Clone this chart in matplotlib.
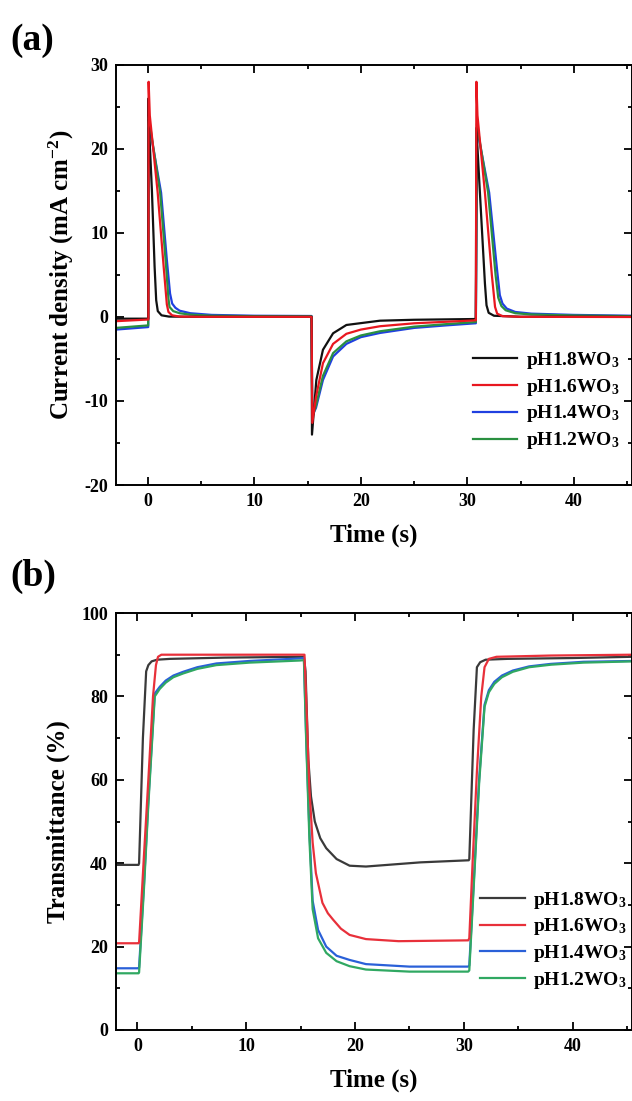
import numpy as np
import matplotlib
matplotlib.use("Agg")
import matplotlib.pyplot as plt

plt.rcParams['font.family'] = ['Liberation Serif', 'DejaVu Serif']
plt.rcParams['font.weight'] = 'bold'
plt.rcParams['mathtext.fontset'] = 'custom'
plt.rcParams['mathtext.rm'] = 'Liberation Serif:bold'
plt.rcParams['mathtext.it'] = 'Liberation Serif:bold:italic'
plt.rcParams['mathtext.bf'] = 'Liberation Serif:bold'
plt.rcParams['mathtext.default'] = 'rm'
plt.rcParams['axes.unicode_minus'] = False

labels = [r'pH1.8WO$_3$', r'pH1.6WO$_3$', r'pH1.4WO$_3$', r'pH1.2WO$_3$']

# ---- (a) current density ----
t_a_18 = [-3, 0.05, 0.07, 0.15, 0.4, 0.65, 0.8, 0.95, 1.3, 2.0, 5, 15.38,
          15.42, 15.83, 16.45, 17.4, 18.65, 21.8, 25, 30.75, 30.8, 30.85,
          31.3, 31.65, 31.8, 32.0, 32.5, 35, 45.5]
j_a_18 = [-0.2, -0.2, 26, 22, 15, 6, 2, 0.7, 0.2, 0.05, 0.02, 0.02,
          -14, -7.5, -3.9, -1.94, -0.95, -0.44, -0.33, -0.24, -0.24, 22.5,
          12, 4, 1.4, 0.5, 0.15, 0.03, 0.02]

t_a_16 = [-3, 0.07, 0.09, 0.2, 0.94, 1.5, 1.8, 1.95, 2.3, 3, 5, 15.38,
          15.45, 15.8, 16.45, 17.4, 18.65, 20, 21.8, 25, 30.75, 30.8, 30.85,
          30.95, 31.65, 32.3, 32.6, 32.8, 33.3, 35, 45.5]
j_a_16 = [-0.5, -0.3, 28, 24, 14.8, 6, 1.5, 0.6, 0.2, 0.05, 0.02, 0.02,
          -12.6, -9.5, -5.5, -3.2, -2.0, -1.5, -1.1, -0.75, -0.4, -0.4, 28,
          24, 14.8, 5, 1.2, 0.4, 0.1, 0.02, 0.0]

t_a_14 = [-3, 0.05, 0.08, 0.2, 1.26, 1.8, 2.1, 2.3, 2.6, 3.0, 4.0, 6, 10,
          15.38, 15.45, 15.8, 16.45, 17.4, 18.65, 20, 21.8, 25, 28, 30.75,
          30.8, 30.9, 32.05, 32.8, 33.05, 33.3, 33.7, 34.5, 36, 40, 45.5]
j_a_14 = [-1.5, -1.2, 22.5, 22.5, 14.8, 6.8, 2.8, 1.6, 1.1, 0.75, 0.45, 0.25,
          0.15, 0.12, -11.8, -10.8, -7.5, -4.7, -3.2, -2.4, -1.9, -1.3, -1.0,
          -0.75, -0.75, 22.5, 14.8, 5.5, 2.6, 1.6, 1.0, 0.6, 0.4, 0.25, 0.15]

t_a_12 = [-3, 0.05, 0.08, 0.2, 1.17, 1.7, 1.95, 2.05, 2.4, 3.0, 4.0, 6, 10,
          15.38, 15.45, 15.8, 16.45, 17.4, 18.65, 20, 21.8, 25, 28, 30.75,
          30.8, 30.9, 31.95, 32.65, 32.9, 33.2, 33.6, 34.5, 36, 40, 45.5]
j_a_12 = [-1.3, -1.0, 23.5, 23, 14.8, 6.5, 2.2, 1.2, 0.7, 0.45, 0.28, 0.15,
          0.1, 0.08, -12, -10.5, -7, -4.3, -2.9, -2.2, -1.7, -1.15, -0.85,
          -0.6, -0.6, 23, 14.8, 5, 2.3, 1.3, 0.8, 0.45, 0.3, 0.18, 0.1]

# ---- (b) transmittance ----
t_b_18 = [-2, 0.1, 0.15, 0.5, 0.8, 1.0, 1.3, 1.8, 3, 8, 15.3, 15.45, 15.7,
          15.95, 16.3, 16.8, 17.35, 18.3, 19.5, 21, 23, 26, 30.45, 30.5, 30.9,
          31.2, 31.5, 32, 34, 40, 45.5]
T_b_18 = [39.6, 39.6, 40, 70, 86, 87.5, 88.4, 88.8, 89, 89.3, 89.5, 86, 65,
          56, 50, 46, 43.6, 41, 39.4, 39.2, 39.6, 40.2, 40.7, 41, 72, 87,
          88.2, 88.8, 89, 89.2, 89.5]

t_b_16 = [-2, 0.1, 0.15, 0.6, 1.0, 1.43, 1.7, 1.89, 2.2, 4, 10, 15.35, 15.5,
          15.8, 16.1, 16.4, 17.0, 17.5, 18.0, 18.7, 19.5, 21, 24, 30.4, 30.5,
          30.8, 31.2, 31.6, 31.9, 32.3, 33, 38, 45.5]
T_b_16 = [20.8, 20.8, 21, 42, 60, 80, 87.5, 89.5, 90, 90, 90, 90, 80, 58,
          45, 37.6, 30.5, 28, 26.4, 24.3, 22.8, 21.8, 21.3, 21.5, 22, 40, 62,
          80, 87, 89, 89.5, 89.8, 90]

t_b_14 = [-2, 0.1, 0.15, 0.6, 1.0, 1.59, 2.05, 2.6, 3.3, 4.2, 5.5, 7.25,
          10.3, 14.9, 15.3, 15.5, 15.8, 16.1, 16.6, 17.35, 18.3, 19.5, 21, 25,
          30.4, 30.5, 30.9, 31.4, 31.9, 32.3, 32.8, 33.5, 34.5, 36, 38, 41,
          45.5]
T_b_14 = [14.8, 14.8, 15, 35, 55, 80.7, 82.3, 83.8, 85, 85.9, 87, 87.9,
          88.5, 89.1, 89.2, 71, 48, 31, 24, 20, 17.8, 16.8, 15.8, 15.2, 15.2,
          15.5, 35, 60, 78, 81.5, 83.5, 85, 86.2, 87.2, 87.8, 88.3, 88.5]

t_b_12 = [-2, 0.1, 0.15, 0.6, 1.0, 1.59, 2.05, 2.6, 3.3, 4.2, 5.5, 7.25,
          10.3, 14.9, 15.3, 15.5, 15.8, 16.1, 16.6, 17.35, 18.3, 19.5, 21, 25,
          30.4, 30.5, 30.9, 31.4, 31.9, 32.3, 32.8, 33.5, 34.5, 36, 38, 41,
          45.5]
T_b_12 = [13.6, 13.6, 13.8, 34, 54, 80, 81.8, 83.3, 84.6, 85.5, 86.6, 87.5,
          88.1, 88.6, 88.7, 70, 46, 29, 22, 18.5, 16.5, 15.3, 14.5, 14.0, 14.0,
          14.3, 34, 59, 77.5, 81, 83, 84.6, 85.9, 87, 87.6, 88.1, 88.4]

cols_a = ['#111111', '#e8171f', '#2040e0', '#2a9040']
cols_b = ['#3a3a3a', '#e8303a', '#2a60d8', '#30a862']

fig = plt.figure(figsize=(6.32, 11.01), dpi=100)
W, H = 632.0, 1101.0
ax1 = fig.add_axes([115.7/W, 1-485/H, (632.5-115.7)/W, 420/H])
ax2 = fig.add_axes([115.7/W, 1-1030/H, (632.5-115.7)/W, 417/H])

def style(ax):
    for s in ax.spines.values():
        s.set_linewidth(1.4)
    ax.tick_params(which='both', direction='in', top=True, right=True,
                   width=1.3, labelsize=13, pad=5.5)
    ax.tick_params(which='major', length=5.5)
    ax.tick_params(which='minor', length=3)
    for lab in ax.get_xticklabels() + ax.get_yticklabels():
        lab.set_fontweight('bold')

# panel a
la = {}
la[2], = ax1.plot(t_a_14, j_a_14, color=cols_a[2], lw=1.6)
la[3], = ax1.plot(t_a_12, j_a_12, color=cols_a[3], lw=1.6)
la[0], = ax1.plot(t_a_18, j_a_18, color=cols_a[0], lw=1.6)
la[1], = ax1.plot(t_a_16, j_a_16, color=cols_a[1], lw=1.6)
ax1.set_xlim(-3, 45.5)
ax1.set_ylim(-20, 30)
ax1.set_xticks([0, 10, 20, 30, 40])
ax1.set_xticks(np.arange(-0, 46, 5), minor=True)
ax1.set_yticks([-20, -10, 0, 10, 20, 30])
ax1.set_yticks(np.arange(-20, 31, 5), minor=True)
style(ax1)
ax1.set_xlabel('Time (s)', fontsize=18, fontweight='bold', labelpad=10)
ax1.set_ylabel(r'Current density (mA cm$^{-2}$)', fontsize=18,
               fontweight='bold', labelpad=6)
ax1.legend([la[i] for i in range(4)], labels, loc='upper left',
           bbox_to_anchor=(0.672, 0.345), frameon=False, fontsize=14,
           borderpad=0, handlelength=2.3, handletextpad=0.45,
           labelspacing=0.3)

# panel b
lb = {}
lb[0], = ax2.plot(t_b_18, T_b_18, color=cols_b[0], lw=1.6)
lb[2], = ax2.plot(t_b_14, T_b_14, color=cols_b[2], lw=1.6)
lb[3], = ax2.plot(t_b_12, T_b_12, color=cols_b[3], lw=1.6)
lb[1], = ax2.plot(t_b_16, T_b_16, color=cols_b[1], lw=1.6)
ax2.set_xlim(-2, 45.5)
ax2.set_ylim(0, 100)
ax2.set_xticks([0, 10, 20, 30, 40])
ax2.set_xticks(np.arange(0, 46, 5), minor=True)
ax2.set_yticks([0, 20, 40, 60, 80, 100])
ax2.set_yticks(np.arange(0, 101, 10), minor=True)
style(ax2)
ax2.set_xlabel('Time (s)', fontsize=18, fontweight='bold', labelpad=10)
ax2.set_ylabel('Transmittance (%)', fontsize=18, fontweight='bold',
               labelpad=8)
ax2.legend([lb[i] for i in range(4)], labels, loc='upper left',
           bbox_to_anchor=(0.686, 0.36), frameon=False, fontsize=14,
           borderpad=0, handlelength=2.3, handletextpad=0.45,
           labelspacing=0.3)

fig.text(10/W, 1-40/H, '(a)', fontsize=27, fontweight='bold', va='center')
fig.text(10/W, 1-576/H, '(b)', fontsize=27, fontweight='bold', va='center')

fig.savefig('out.png', dpi=100)
